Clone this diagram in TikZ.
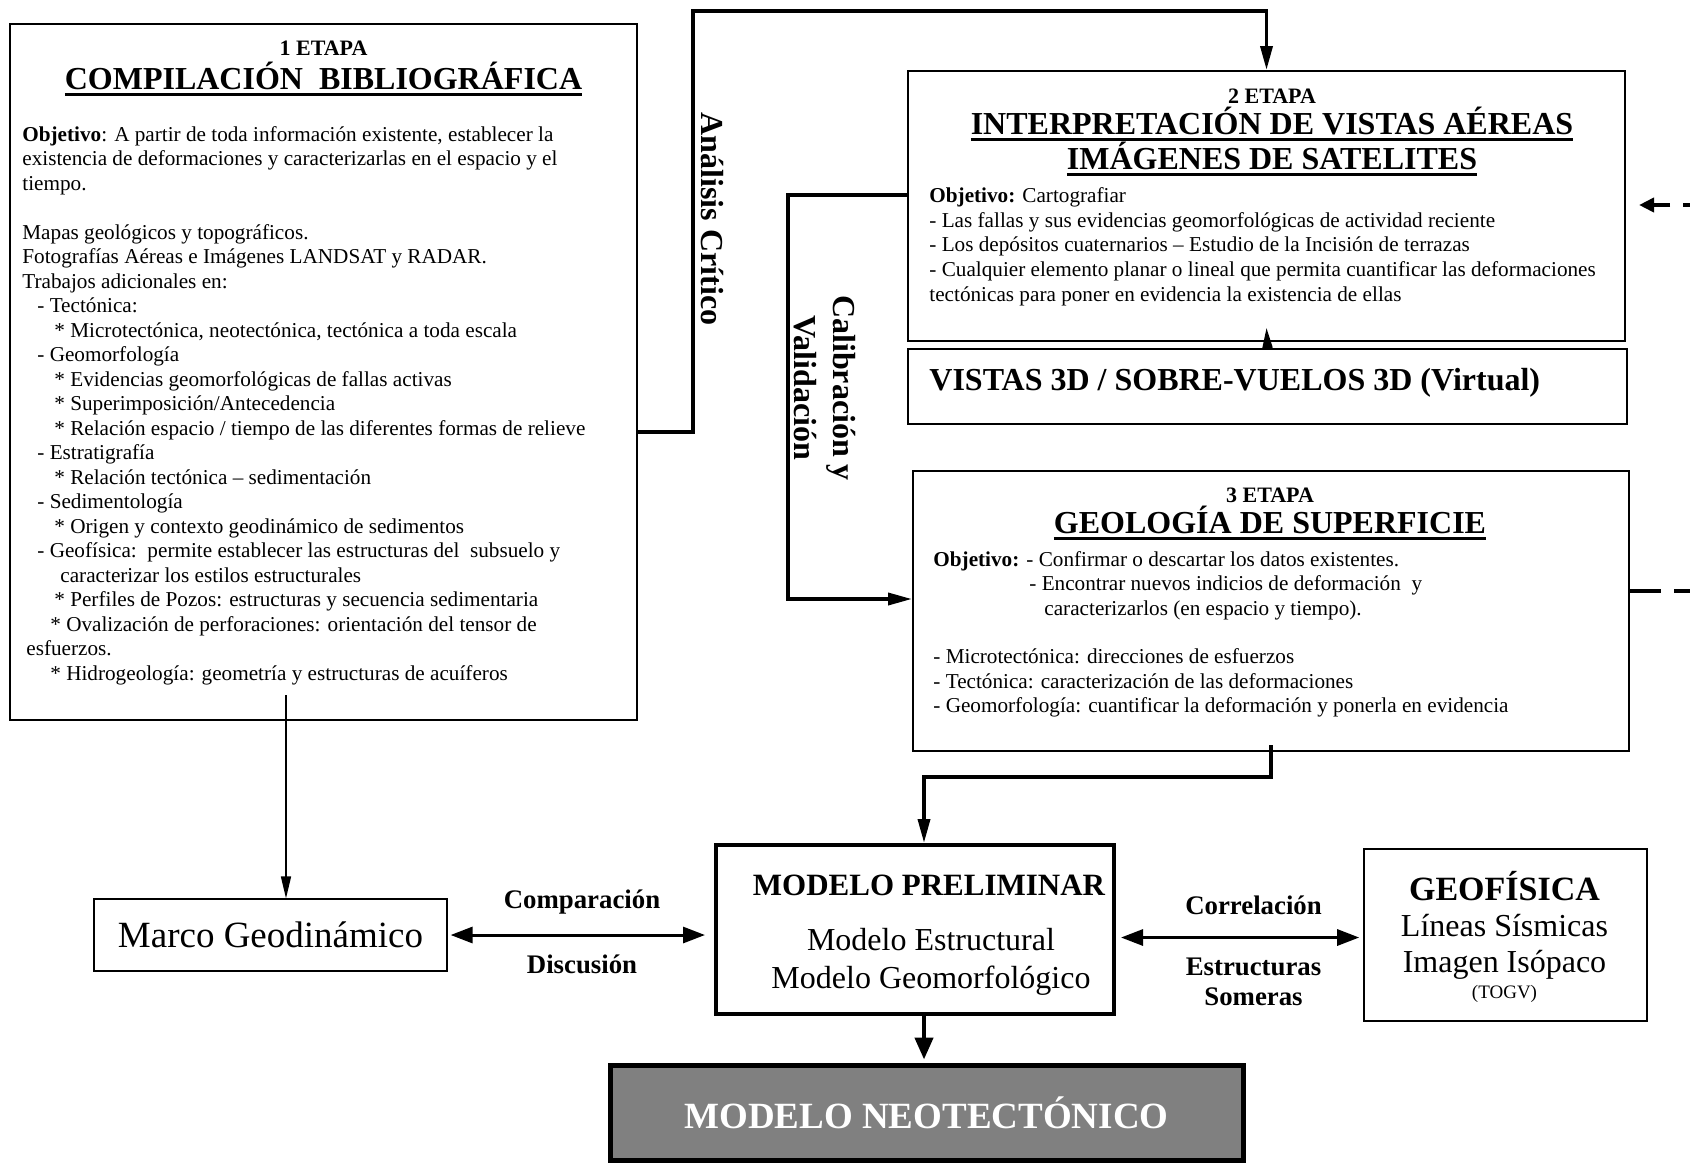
\documentclass[tikz,border=0pt]{standalone}
\usepackage{fontspec}
\setmainfont{Liberation Serif}
\usetikzlibrary{arrows.meta}

\newcommand{\subrayado}[1]{\setbox0\hbox{#1}\rlap{\rule[-3pt]{\wd0}{1.3pt}}\box0}

\begin{document}
\begin{tikzpicture}[x=0.5pt,y=-0.5pt,
	caja/.style={draw,line width=1pt,inner sep=0pt},
	etapa/.style={font=\bfseries\fontsize{11}{12}\selectfont,inner sep=0pt},
	titulo/.style={font=\bfseries\fontsize{16}{15.5}\selectfont,align=center,inner sep=0pt},
	texto/.style={anchor=north west,align=left,inner sep=0pt,font=\fontsize{10.6}{12.25}\selectfont},
	rotulo/.style={font=\bfseries\fontsize{16}{19.5}\selectfont,align=center,inner sep=0pt,rotate=-90},
	etiqueta/.style={font=\bfseries\fontsize{13.4}{15}\selectfont,inner sep=0pt},
	flecha/.style={line width=1.8pt,-{Triangle[length=12pt,width=6pt]}},
	fina/.style={line width=0.8pt,-{Triangle[length=11pt,width=5pt]}},
	doble/.style={line width=1.5pt,{Triangle[length=11pt,width=8pt]}-{Triangle[length=11pt,width=8pt]}},
	gruesa/.style={line width=2.2pt,-{Triangle[length=11pt,width=9pt]}},
	discontinua/.style={line width=2pt,dash pattern=on 15.5pt off 6.5pt}]
	\useasboundingbox (0,0) rectangle (1690,1163);

	% 1 etapa
	\node[caja,minimum width=313.5pt,minimum height=348pt] (etapa1) at (323.5,372) {};
	\node[etapa] (num1) at (323.5,48.5) {1 ETAPA};
	\node[titulo] (tit1) at (323.5,79) {\subrayado{COMPILACIÓN\ \ BIBLIOGRÁFICA}};
	\node[texto] (txt1) at (22,126) {\textbf{Objetivo}: A partir de toda información existente, establecer la\\
		existencia de deformaciones y caracterizarlas en el espacio y el\\
		tiempo.\\[12.25pt]
		Mapas geológicos y topográficos.\\
		Fotografías Aéreas e Imágenes LANDSAT y RADAR.\\
		Trabajos adicionales en:\\
		\hspace*{7.5pt}- Tectónica:\\
		\hspace*{16pt}* Microtectónica, neotectónica, tectónica a toda escala\\
		\hspace*{7.5pt}- Geomorfología\\
		\hspace*{16pt}* Evidencias geomorfológicas de fallas activas\\
		\hspace*{16pt}* Superimposición/Antecedencia\\
		\hspace*{16pt}* Relación espacio / tiempo de las diferentes formas de relieve\\
		\hspace*{7.5pt}- Estratigrafía\\
		\hspace*{16pt}* Relación tectónica – sedimentación\\
		\hspace*{7.5pt}- Sedimentología\\
		\hspace*{16pt}* Origen y contexto geodinámico de sedimentos\\
		\hspace*{7.5pt}- Geofísica:\ \ permite establecer las estructuras del\ \ subsuelo y\\
		\hspace*{19pt}caracterizar los estilos estructurales\\
		\hspace*{16pt}* Perfiles de Pozos: estructuras y secuencia sedimentaria\\
		\hspace*{14pt}* Ovalización de perforaciones: orientación del tensor de\\
		\hspace*{2pt}esfuerzos.\\
		\hspace*{14pt}* Hidrogeología: geometría y estructuras de acuíferos};

	% 2 etapa
	\node[caja,minimum width=358.5pt,minimum height=135pt] (etapa2) at (1266.5,206) {};
	\node[etapa] (num2) at (1272,96) {2 ETAPA};
	\node[titulo] (tit2) at (1272,141.5) {\subrayado{INTERPRETACIÓN DE VISTAS AÉREAS}\\\subrayado{IMÁGENES DE SATELITES}};
	\node[texto,font=\fontsize{10.6}{12.4}\selectfont] (txt2) at (929,187) {\textbf{Objetivo:} Cartografiar\\
		- Las fallas y sus evidencias geomorfológicas de actividad reciente\\
		- Los depósitos cuaternarios – Estudio de la Incisión de terrazas\\
		- Cualquier elemento planar o lineal que permita cuantificar las deformaciones\\
		tectónicas para poner en evidencia la existencia de ellas};
	\node[caja,minimum width=359.5pt,minimum height=37.5pt] (vistas) at (1267.5,386.5) {};
	\node[anchor=west,inner sep=0pt,font=\bfseries\fontsize{16}{18}\selectfont] (txtv) at (929,383) {VISTAS 3D / SOBRE-VUELOS 3D (Virtual)};

	% 3 etapa
	\node[caja,minimum width=358pt,minimum height=140pt] (etapa3) at (1271,611) {};
	\node[etapa] (num3) at (1270,495) {3 ETAPA};
	\node[titulo] (tit3) at (1270,523) {\subrayado{GEOLOGÍA DE SUPERFICIE}};
	\node[texto,font=\fontsize{10.6}{12.2}\selectfont] (txt3) at (933,551) {\textbf{Objetivo:} - Confirmar o descartar los datos existentes.\\
		\hspace*{48pt}- Encontrar nuevos indicios de deformación\ \ y\\
		\hspace*{55.5pt}caracterizarlos (en espacio y tiempo).\\[12.2pt]
		- Microtectónica: direcciones de esfuerzos\\
		- Tectónica: caracterización de las deformaciones\\
		- Geomorfología: cuantificar la deformación y ponerla en evidencia};

	% modelos
	\node[caja,line width=0.6pt,minimum width=176.5pt,minimum height=36pt,font=\fontsize{18.5}{20}\selectfont] (marco) at (270.5,935) {Marco Geodinámico};
	\node[caja,line width=2pt,minimum width=199pt,minimum height=84.5pt] (prelim) at (915,929.5) {};
	\node[inner sep=0pt,font=\bfseries\fontsize{15.5}{18}\selectfont] (tprelim) at (929,885) {MODELO PRELIMINAR};
	\node[inner sep=0pt,align=center,font=\fontsize{16}{18.75}\selectfont] (sprelim) at (931,962) {Modelo Estructural\\Modelo Geomorfológico};
	\node[caja,line width=0.8pt,minimum width=141.5pt,minimum height=86pt] (geof) at (1505.5,935) {};
	\node[inner sep=0pt,font=\bfseries\fontsize{17}{19}\selectfont] (tgeof) at (1504.5,886) {GEOFÍSICA};
	\node[inner sep=0pt,align=center,font=\fontsize{16}{18.25}\selectfont] (sgeof) at (1504.5,947) {Líneas Sísmicas\\Imagen Isópaco};
	\node[inner sep=0pt,font=\fontsize{9.5}{10}\selectfont] (togv) at (1504.5,993.5) {(TOGV)};
	\node[caja,line width=2.5pt,fill=black!50,minimum width=316.5pt,minimum height=47.5pt,text=white,font=\bfseries\fontsize{18.5}{20}\selectfont] (neo) at (926.5,1112.5) {MODELO NEOTECTÓNICO};

	% conectores
	\coordinate (arriba) at (693,11);
	\draw[flecha] ([yshift=-30pt]etapa1.east) -| (arriba) -| (etapa2.north);
	\node[rotulo] (analisis) at (712,219) {Análisis Crítico};
	\coordinate (izq) at (788,400);
	\draw[flecha] ([yshift=5.5pt]etapa2.west) -| (izq) |- ([yshift=6pt]etapa3.west);
	\node[rotulo] (calib) at (825,388) {Calibración y\\Validación};
	\draw[line width=1pt,-{Triangle[length=10pt,width=5pt]}] (vistas.north) -- ([yshift=7pt]etapa2.south);
	\coordinate (c1) at (286,695);
	\draw[fina] (c1) -- (c1 |- marco.north);
	\draw[flecha] ([yshift=3.5pt]etapa3.south) -- ++(0,32) -| ([xshift=4.5pt]prelim.north);
	\draw[gruesa] ([xshift=4.5pt]prelim.south) -- ([xshift=4.5pt,yshift=1.5pt]prelim.south |- neo.north);
	\draw[doble,shorten <=1.5pt,shorten >=4.5pt] (marco.east) -- (prelim.west |- marco.east);
	\node[etiqueta] (comp) at (582,902) {Comparación};
	\node[etiqueta] (disc) at (582,964.5) {Discusión};
	\draw[doble,shorten <=2.5pt,shorten >=2pt] ([yshift=-4pt]prelim.east) -- ([yshift=-4pt]prelim.east -| geof.west);
	\node[etiqueta] (corr) at (1253.5,905.5) {Correlación};
	\node[etiqueta,align=center,font=\bfseries\fontsize{13.4}{15.25}\selectfont] (somer) at (1253.5,982) {Estructuras\\Someras};
	\coordinate (fuera1) at (1690,591);
	\draw[discontinua] ([yshift=10pt]etapa3.east) -- (fuera1);
	\coordinate (fuera2) at (1690,205);
	\draw[discontinua,dash phase=12pt,-{Triangle[length=7.5pt,width=7pt]}] (fuera2) -- ([xshift=6.5pt,yshift=0.5pt]etapa2.east);
\end{tikzpicture}
\end{document}
